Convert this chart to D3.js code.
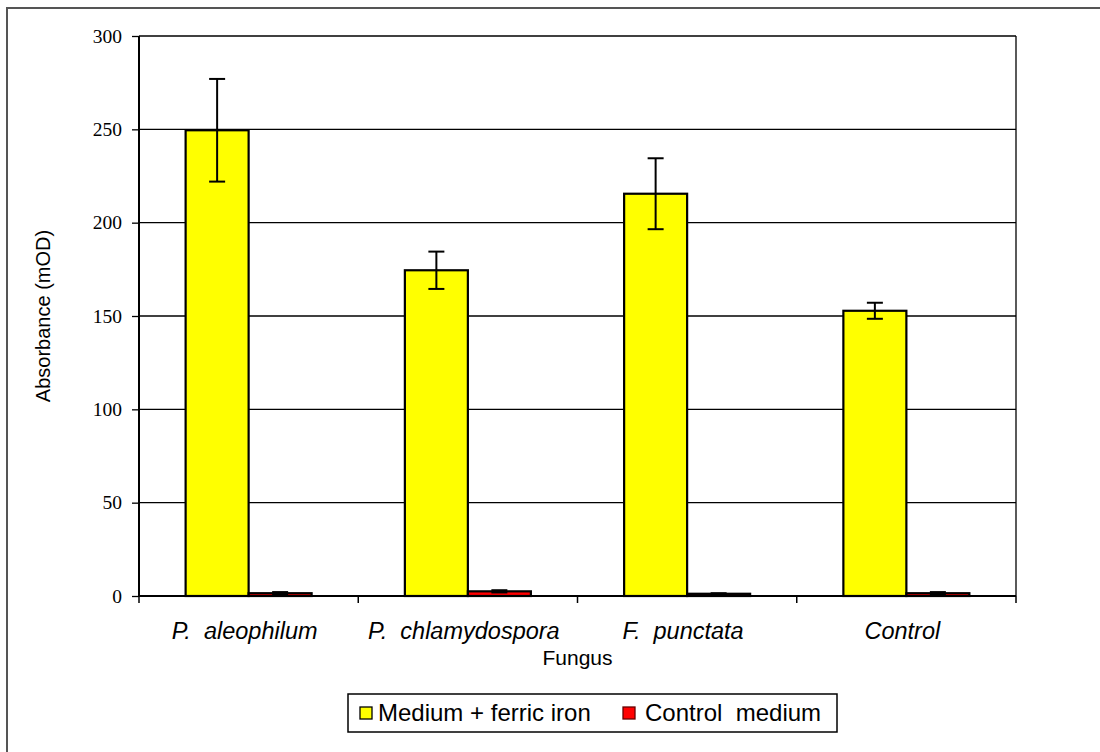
<!DOCTYPE html>
<html>
<head>
<meta charset="utf-8">
<script src="https://cdn.jsdelivr.net/npm/d3@7"></script>
<style>
  body { margin: 0; background: #fff; }
  svg { display: block; }
</style>
</head>
<body>
<div id="chart"></div>
<script>
// chart data
var categories = ["P. aleophilum", "P. chlamydospora", "F. punctata", "Control"];
var seriesNames = ["Medium + ferric iron", "Control  medium"];
var ironValues = [249.5, 174.5, 215.5, 152.8];
var ironErrors = [27.5, 10, 19, 4.3];
var controlValues = [1.5, 2.5, 1.2, 1.5];
var controlErrors = [0.6, 0.6, 0.3, 0.6];
var yTicks = [0, 50, 100, 150, 200, 250, 300];
var colors = ["#ffff00", "#ff0000"];

var svgWidth = 1100;
var svgHeight = 752;

var margin = { top: 36, right: 84, bottom: 156, left: 139 };
var width = svgWidth - margin.left - margin.right;
var height = svgHeight - margin.top - margin.bottom;

var sans = "'Liberation Sans', Arial, sans-serif";

var svg = d3.select("#chart").append("svg")
  .attr("width", svgWidth)
  .attr("height", svgHeight);

// outer frame (only left & top edges show)
svg.append("rect")
  .attr("x", 7).attr("y", 8)
  .attr("width", 1200).attr("height", 900)
  .attr("fill", "none")
  .attr("stroke", "#555")
  .attr("stroke-width", 2);

var chartGroup = svg.append("g")
  .attr("transform", `translate(${margin.left}, ${margin.top})`);

var x0 = d3.scaleBand().domain(categories).range([0, width]).padding(0);
var x1 = d3.scaleBand().domain([0, 1]).range([0, x0.bandwidth()])
  .paddingInner(0).paddingOuter(0.74);
var y = d3.scaleLinear().domain([0, 300]).range([height, 0]);

// gridlines
chartGroup.append("g").selectAll("line")
  .data(yTicks).enter().append("line")
  .attr("x1", 0).attr("x2", width)
  .attr("y1", d => y(d)).attr("y2", d => y(d))
  .attr("stroke", "#000").attr("stroke-width", 1.3);

// right border of plot
chartGroup.append("line")
  .attr("x1", width).attr("x2", width)
  .attr("y1", 0).attr("y2", height)
  .attr("stroke", "#000").attr("stroke-width", 1.3);

// build rows for both series
var rows = [];
categories.forEach(function (c, i) {
  rows.push({ cat: c, s: 0, v: ironValues[i], e: ironErrors[i] });
  rows.push({ cat: c, s: 1, v: controlValues[i], e: controlErrors[i] });
});

chartGroup.append("g").selectAll("rect")
  .data(rows).enter().append("rect")
  .attr("x", d => x0(d.cat) + x1(d.s))
  .attr("y", d => y(d.v))
  .attr("width", x1.bandwidth())
  .attr("height", d => y(0) - y(d.v))
  .attr("fill", d => colors[d.s])
  .attr("stroke", "#000")
  .attr("stroke-width", 2.2);

// error bars
var err = chartGroup.append("g").selectAll("g")
  .data(rows).enter().append("g")
  .attr("stroke", "#000").attr("stroke-width", 2);
var cx = d => x0(d.cat) + x1(d.s) + x1.bandwidth() / 2;
err.append("line")
  .attr("x1", cx).attr("x2", cx)
  .attr("y1", d => y(d.v + d.e)).attr("y2", d => y(d.v - d.e));
err.append("line")
  .attr("x1", d => cx(d) - 8).attr("x2", d => cx(d) + 8)
  .attr("y1", d => y(d.v + d.e)).attr("y2", d => y(d.v + d.e));
err.append("line")
  .attr("x1", d => cx(d) - 8).attr("x2", d => cx(d) + 8)
  .attr("y1", d => y(d.v - d.e)).attr("y2", d => y(d.v - d.e));

// y axis
var leftAxis = d3.axisLeft(y).tickValues(yTicks).tickSize(7).tickPadding(10);
var yAxis = chartGroup.append("g").call(leftAxis);
yAxis.select(".domain").attr("stroke-width", 2).attr("d", `M0,0V${height}`);
yAxis.selectAll(".tick line").attr("stroke-width", 1.3);
yAxis.selectAll("text")
  .attr("font-family", "'Liberation Serif', 'Times New Roman', serif")
  .attr("font-size", 19.5).attr("fill", "#000");

// x axis with ticks at category boundaries
var xAxis = chartGroup.append("g").attr("transform", `translate(0, ${height})`);
xAxis.append("line")
  .attr("x1", 0).attr("x2", width)
  .attr("stroke", "#000").attr("stroke-width", 2);
var bounds = categories.map(c => x0(c)).concat([width]);
xAxis.selectAll(".btick").data(bounds).enter().append("line")
  .attr("x1", d => d).attr("x2", d => d)
  .attr("y1", 0).attr("y2", 7)
  .attr("stroke", "#000").attr("stroke-width", 1.5);
xAxis.selectAll(".lbl").data(categories).enter().append("text")
  .attr("x", d => x0(d) + x0.bandwidth() / 2 - 4)
  .attr("y", 43)
  .attr("text-anchor", "middle")
  .attr("font-family", sans)
  .attr("font-style", "italic")
  .attr("font-size", 23.5)
  .text(d => d.replace(". ", ".\u00a0 "));

// axis titles
chartGroup.append("text")
  .attr("x", width / 2).attr("y", height + 69)
  .attr("text-anchor", "middle")
  .attr("font-family", sans)
  .attr("font-size", 21)
  .text("Fungus");

chartGroup.append("text")
  .attr("transform", "rotate(-90)")
  .attr("x", -height / 2).attr("y", -89)
  .attr("text-anchor", "middle")
  .attr("font-family", sans)
  .attr("font-size", 20)
  .text("Absorbance (mOD)");

// legend
var legend = svg.append("g").attr("transform", "translate(348, 694)");
legend.append("rect")
  .attr("width", 489).attr("height", 38)
  .attr("fill", "#fff").attr("stroke", "#000").attr("stroke-width", 1.5);
var legendX = [12, 275];
var items = legend.selectAll(".item").data(seriesNames).enter().append("g")
  .attr("transform", (d, i) => `translate(${legendX[i]}, 0)`);
items.append("rect")
  .attr("x", 0).attr("y", 13)
  .attr("width", 12).attr("height", 12)
  .attr("fill", (d, i) => colors[i])
  .attr("stroke", (d, i) => i === 0 ? "#000" : "#600")
  .attr("stroke-width", 1.3);
items.append("text")
  .attr("x", (d, i) => i === 0 ? 18 : 22).attr("y", 27)
  .attr("font-family", sans)
  .attr("font-size", 24)
  .style("white-space", "pre")
  .text(d => d);
</script>
</body>
</html>
